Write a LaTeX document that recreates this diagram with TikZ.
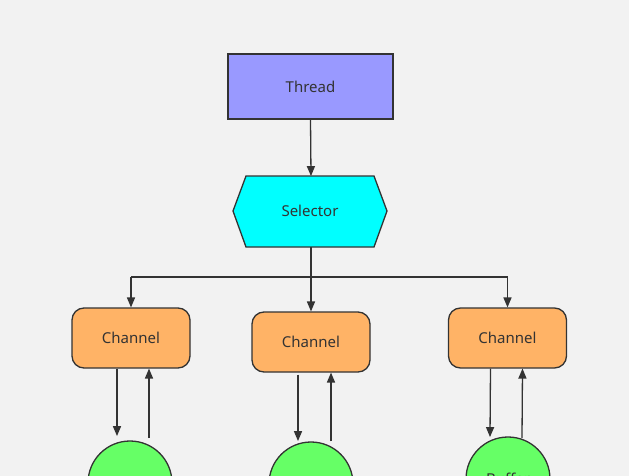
\documentclass[tikz,border=0pt]{standalone}
\usepackage{fontspec}
\setmainfont{Noto Sans}
\usetikzlibrary{arrows,positioning,calc,shapes.misc}
\definecolor{bg}{HTML}{F2F2F2}
\definecolor{threadc}{HTML}{9999FF}
\definecolor{selc}{HTML}{00FFFF}
\definecolor{chanc}{HTML}{FFB366}
\definecolor{bufc}{HTML}{66FF66}
\definecolor{linec}{HTML}{333333}
\tikzset{
  box/.style={draw=linec, line width=1.3pt, text=linec, font=\fontsize{15}{17}\selectfont},
  chan/.style={box, fill=chanc, rounded corners=12pt, minimum width=118pt, minimum height=60pt},
  buf/.style={box, fill=bufc, circle, minimum size=84pt},
  arr/.style={draw=linec, line width=1.3pt, -triangle 45}
}
\begin{document}
\begin{tikzpicture}[x=1pt,y=-1pt]
\fill[bg] (0,0) rectangle (629,476);
\useasboundingbox (0,0) rectangle (629,476);
\clip (0,0) rectangle (629,476);

\node[box, fill=threadc, minimum width=165pt, minimum height=65pt] (thread) at (310.5,86.5) {Thread};
\draw[box, fill=selc] (233,211) -- (246,176) -- (374,176) -- (387,211) -- (374,247) -- (246,247) -- cycle;
\node[box, draw=none] (sel) at (310,211) {Selector};
\coordinate (selb) at (311,247);
\coordinate (sels) at (311,176);
\coordinate (split) at (311,277);

\node[chan] (ch1) at (131,338) {Channel};
\node[chan] (ch2) at (311,342) {Channel};
\node[chan] (ch3) at (507.5,338) {Channel};

\node[buf] (b1) at (130,483) {Buffer};
\node[buf] (b2) at (311,484) {Buffer};
\node[buf] (b3) at (508,479) {Buffer};

\draw[arr] (thread.south) -- (sels);
\draw[draw=linec, line width=1.3pt] (selb) -- (split);
\draw[draw=linec, line width=1.3pt] (split -| ch1) -- (split -| ch3);
\foreach \c in {ch1,ch2,ch3}
  \draw[arr] (split -| \c) -- (\c.north);

% channel <-> buffer
\draw[arr] ([xshift=-14pt]ch1.south) -- (117,436);
\draw[arr] (149,438) -- ([xshift=18pt]ch1.south);
\draw[arr] ([xshift=-13pt,yshift=-2pt]ch2.south) -- (298,441);
\draw[arr] (b2.north -| 331,0) -- ([xshift=20pt]ch2.south);
\draw[arr] ([xshift=-17pt]ch3.south) -- (490,437);
\draw[arr] (522,438) -- ([xshift=15pt]ch3.south);
\end{tikzpicture}
\end{document}
